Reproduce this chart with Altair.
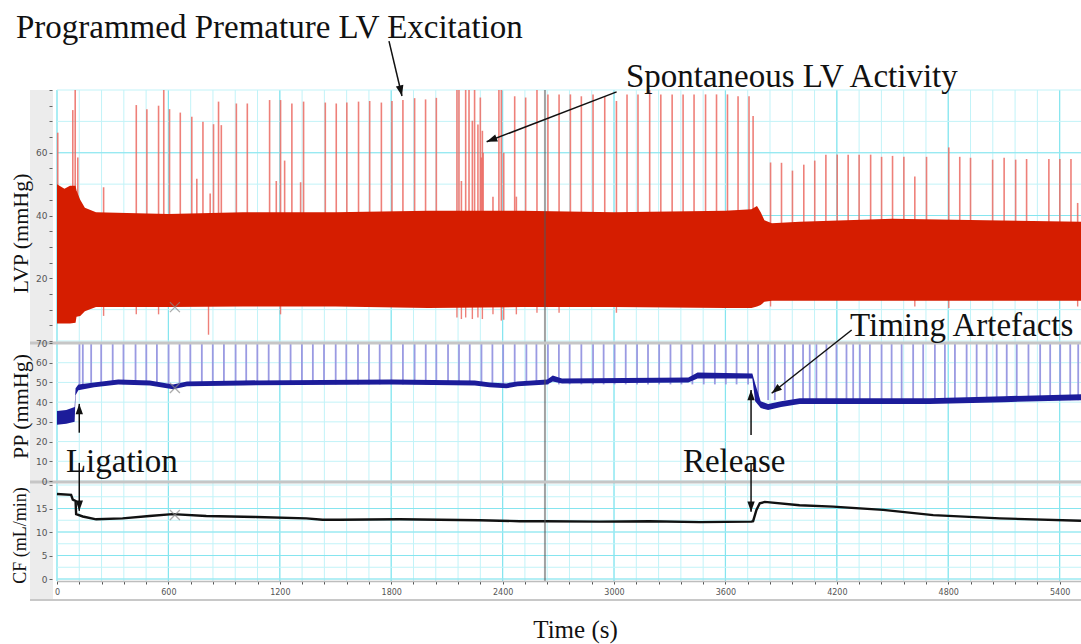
import altair as alt
import pandas as pd

# ------------------------------------------------------------------ data
# LVP envelope of the pressure oscillations (time s, min, max mmHg)
lvp_t = [0, 40, 70, 100, 105, 125, 150, 210, 600, 1000, 1500, 2000,
         2500, 3000, 3600, 3740, 3770, 3790, 3810, 3850, 4000, 4500, 5000, 5515]
lvp_lo = [5.6, 5.6, 5.6, 5.8, 7.7, 8.0, 9.5, 10.8, 10.8, 11.0, 11.0, 10.5,
          10.8, 10.8, 10.5, 10.5, 11.0, 11.5, 12.5, 12.8, 12.8, 12.8, 12.8, 12.8]
lvp_hi = [50, 48.5, 49.5, 49.5, 48, 45, 42.5, 41, 40.5, 41, 41, 41.5,
          41.5, 41, 41.5, 42, 43, 41, 38.5, 37.5, 38, 39, 38.5, 38]

# LVP upward spikes (time s, peak mmHg)
lvp_spike_t = [4, 85, 98, 112, 251, 427, 484, 547, 575, 606,
               664, 726, 753, 786, 825, 843, 870, 885, 966, 1025,
               1145, 1181, 1204, 1226, 1265, 1312, 1328, 1445, 1504, 1561,
               1624, 1684, 1747, 1804, 1863, 1926, 1985, 2043,
               2154, 2165, 2178, 2201, 2219, 2237, 2249, 2267, 2280, 2285,
               2291, 2295, 2348, 2380, 2393, 2406, 2465, 2474, 2524, 2585,
               2644, 2704, 2765, 2824, 2887, 2950, 3013, 3070, 3129, 3192,
               3252, 3313, 3372, 3431, 3493, 3552, 3611, 3668, 3727, 3749,
               3843, 3902, 3961, 4022, 4081, 4141, 4202, 4261, 4320, 4382,
               4441, 4500, 4561, 4620, 4683, 4803, 4862, 4920, 5039, 5101,
               5163, 5222, 5342, 5401, 5461, 5497]
lvp_spike_v = [66.4, 73.6, 80, 58.5, 49, 75.2, 73.9, 75, 80, 73.9,
               72.8, 71.5, 51.7, 69.9, 47, 69.1, 76.3, 68.8, 75.7, 75.7,
               76.8, 51, 76.8, 57.5, 75.7, 50.6, 76.3, 76, 75.7, 76,
               76.3, 76.5, 76, 76.5, 76.8, 77.4, 77, 77.5,
               80, 80, 51, 80, 80, 70.2, 80, 69, 77.6, 58.5,
               67, 60, 46, 80, 80, 60, 78, 46, 77.6, 80,
               78.6, 78.6, 78.6, 78, 78.6, 78, 76.5, 78.6, 78.6, 80,
               78.6, 78.6, 78.6, 78.6, 78.6, 78.6, 78.6, 78, 78, 71.7,
               56.9, 56.8, 54.3, 56.2, 57.5, 59.4, 59.4, 59.4, 59.4, 59.4,
               58.7, 59, 58.7, 52.4, 58.7, 61.7, 58.7, 58.4, 57.8, 58.4,
               57.8, 58, 58, 58, 58, 44]

# LVP downward spikes (time s, minimum mmHg)
lvp_dip_t = [251, 427, 547, 816, 1204, 2154, 2178, 2201, 2237, 2267, 2291,
             2348, 2393, 2406, 2474, 2585, 2704, 3013, 3843, 4620, 4803, 5497]
lvp_dip_v = [8, 8.5, 8.5, 2, 8.5, 7.5, 7, 7.5, 7, 7.5, 7,
             8.5, 6.5, 6.8, 8.5, 9, 9, 9, 11, 11, 10.5, 11]

# PP envelope (time s, min, max mmHg)
pp_t = [0, 50, 95, 100, 115, 200, 330, 500, 625, 700, 1000, 1800, 2250, 2330,
        2420, 2480, 2640, 2670, 2720, 3400, 3450, 3745, 3760, 3790, 3830, 3900,
        4000, 4700, 5100, 5515]
pp_lo = [28.5, 29, 30, 43.5, 46, 47.5, 49, 48.5, 46.5, 48, 48.5, 49, 48.5, 47.5,
         47, 48, 49, 50.5, 49.5, 50, 52, 52, 40.5, 37, 36, 37.5,
         39, 39, 40, 41]
pp_hi = [35.5, 36, 37.5, 47, 49, 50, 51.5, 51, 49, 50.5, 51, 51.5, 51, 50,
         49.5, 50.5, 51.5, 53.5, 52, 52.5, 55, 54.5, 49.5, 40.5, 39, 40.5,
         42, 42, 43, 44]

# PP timing artefacts (time s) before and after release
pp_spike_pre_t = [121, 139, 184, 238, 300, 358, 423, 481, 538, 601,
                  660, 718, 780, 839, 899, 962, 1019, 1079, 1140, 1199,
                  1258, 1319, 1378, 1438, 1501, 1558, 1621, 1680, 1738, 1801,
                  1863, 1926, 1986, 2043, 2106, 2165, 2223, 2286, 2345, 2403,
                  2465, 2528, 2582, 2644, 2703, 2761, 2824, 2887, 2944, 3003,
                  3063, 3124, 3183, 3243, 3304, 3363, 3422, 3483, 3543, 3602,
                  3660, 3722]
pp_spike_post_t = [3776, 3830, 3866, 3920, 3964, 4018, 4054, 4090, 4144, 4198,
                   4252, 4288, 4324, 4378, 4441, 4495, 4549, 4611, 4665, 4728,
                   4782, 4836, 4899, 4953, 5007, 5061, 5115, 5169, 5232, 5295,
                   5349, 5403, 5457, 5500]

# Coronary flow (time s, mL/min)
cf_t = [0, 76, 85, 100, 103, 139, 211, 353, 498, 622,
        804, 1073, 1343, 1430, 1522, 1845, 2276, 2492, 2627, 2923,
        3192, 3462, 3740, 3749, 3767, 3785, 3812, 3999, 4180, 4449,
        4719, 5078, 5515]
cf_v = [18.1, 17.9, 16.9, 16.6, 13.8, 13.3, 12.7, 12.9, 13.4, 13.8,
        13.4, 13.2, 12.9, 12.6, 12.6, 12.7, 12.5, 12.3, 12.3, 12.2,
        12.3, 12.1, 12.2, 12.3, 14.7, 16.1, 16.4, 15.7, 15.4, 14.7,
        13.6, 12.9, 12.4]

# ticks
x_ticks = [0, 600, 1200, 1800, 2400, 3000, 3600, 4200, 4800, 5400]
lvp_ticks = [20, 40, 60]
pp_ticks = [0, 10, 20, 30, 40, 50, 60, 70]
cf_ticks = [0, 5, 10, 15]

# event marker (x) and cursor
marker_t = [635]
marker_lvp = [10.8]
marker_pp = [47.2]
marker_cf = [13.6]
cursor_t = [2628]

# annotations
lvp_notes = ["Programmed Premature LV Excitation", "Spontaneous LV Activity"]
lvp_note_t = [-221, 3064]
lvp_note_v = [96.7, 81.0]
pp_notes = ["Timing Artefacts", "Ligation", "Release"]
pp_note_t = [4271, 48, 3371]
pp_note_v = [73.6, 4.8, 4.8]

lvp_arrow_t0 = [1788, 3014]
lvp_arrow_v0 = [95.6, 79.4]
lvp_arrow_t1 = [1858, 2314]
lvp_arrow_v1 = [78.1, 63.5]
pp_arrow_t0 = [4280, 120, 3738]
pp_arrow_v0 = [76.6, 24.5, 23.3]
pp_arrow_t1 = [3849, 120, 3738]
pp_arrow_v1 = [44.5, 39.1, 46.2]
cf_arrow_t0 = [120, 3738]
cf_arrow_v0 = [24.7, 24.7]
cf_arrow_t1 = [120, 3738]
cf_arrow_v1 = [14.5, 14.3]

# ------------------------------------------------------------------ style
SERIF = "Liberation Serif"
SANS = "DejaVu Sans"
W, H = 1024, 491
RED = "#d51d00"
RED_SPIKE = "#eb6a62"
BLUE = "#1c1c9a"
BLUE_SPIKE = "#9a9ae2"
G_MINOR = "#c2f3f8"
G_MAJOR = "#86e5ef"
HEAD = "M0,0L-0.36,1L0.36,1Z"
XSHAPE = "M-1,-1L1,1M-1,1L1,-1"

XS = alt.Scale(domain=[0, 5515], nice=False, zero=False)
S_LVP = alt.Scale(domain=[0, 80], range=[251, 0], nice=False, zero=False)
S_PP = alt.Scale(domain=[0, 70], range=[391, 253], nice=False, zero=False)
S_CF = alt.Scale(domain=[0, 20], range=[489, 395], nice=False, zero=False)


def y_axis(title, values, expr, ty, fs):
    return alt.Axis(orient="left", values=values, labelExpr=expr, title=title,
                    titleX=-32, titleY=ty, titleAngle=270, titleAlign="center",
                    titleBaseline="middle", titleFont=SERIF, titleFontSize=fs,
                    titleFontWeight="normal", titleColor="#111",
                    labelFont=SANS, labelFontSize=9, labelColor="#555",
                    labelPadding=2, tickSize=3, tickColor="#666", domain=False,
                    grid=False, offset=5, zindex=1, labelOverlap=False,
                    labelFlush=False)


X_AXIS = alt.Axis(values=list(range(0, 5516, 120)), format="d",
                  labelExpr="datum.value % 600 === 0 ? datum.label : ''",
                  tickSize=3, tickColor="#555", domainColor="#bdbdbd",
                  domainWidth=1.5, labelFont=SANS, labelFontSize=8,
                  labelColor="#555", labelPadding=4, grid=False,
                  labelOverlap=False, labelFlush=False,
                  title="Time (s)", titleFont=SERIF, titleFontSize=25,
                  titleFontWeight="normal", titleColor="#111", titleX=518,
                  titleY=56, titleBaseline="alphabetic", zindex=1)

AX_LVP = y_axis("LVP (mmHg)", list(range(0, 81, 5)),
                "datum.value % 20 === 0 && datum.value > 0 && datum.value < 80 ? datum.label : ''",
                143, 22)
AX_PP = y_axis("PP (mmHg)", pp_ticks, "datum.label", 316, 22)
AX_CF = y_axis("CF (mL/min)", [0, 5, 10, 15, 20],
               "datum.value < 20 ? datum.label : ''", 445, 18)


def xq(f):
    return alt.X(f, type="quantitative", scale=XS, axis=X_AXIS)


def yq(f, s, ax):
    return alt.Y(f, type="quantitative", scale=s, axis=ax)


one = alt.Data(values=[{"a": 1}])

# ------------------------------------------------------------------ background
strip = alt.Chart(one).mark_rect(color="#ececec").encode(
    x=alt.value(-27), x2=alt.value(-4), y=alt.value(0), y2=alt.value(510))

vgrid_minor = alt.Chart(pd.DataFrame({"t": list(range(0, 5516, 120))})).mark_rule(
    color=G_MINOR, strokeWidth=1).encode(x=xq("t"), y=alt.value(0), y2=alt.value(H))
vgrid_major = alt.Chart(pd.DataFrame({"t": x_ticks})).mark_rule(
    color=G_MAJOR, strokeWidth=1.2).encode(x=xq("t"), y=alt.value(0), y2=alt.value(H))


def hgrid(vals, scale, color, ax):
    return alt.Chart(pd.DataFrame({"v": vals})).mark_rule(color=color, strokeWidth=1).encode(
        y=yq("v:Q", scale, ax), x=alt.value(0), x2=alt.value(W))


def xmark(vals, scale, ax):
    return alt.Chart(pd.DataFrame({"t": marker_t, "v": vals})).mark_point(
        shape=XSHAPE, size=100, color="#8a8a8a", strokeWidth=1.3, filled=False).encode(
        x=xq("t"), y=yq("v", scale, ax))


# ------------------------------------------------------------------ LVP panel
lvp_df = pd.DataFrame({"t": lvp_t, "lo": lvp_lo, "hi": lvp_hi})
lvp_panel = alt.layer(
    hgrid(list(range(0, 81, 10)), S_LVP, G_MINOR, AX_LVP),
    hgrid(lvp_ticks, S_LVP, G_MAJOR, AX_LVP),
    alt.Chart(pd.DataFrame({"t": lvp_spike_t, "v": lvp_spike_v})).mark_rule(
        color=RED_SPIKE, strokeWidth=1.6, opacity=0.85).encode(
        x=xq("t"), y=yq("v", S_LVP, AX_LVP), y2=alt.datum(30)),
    alt.Chart(pd.DataFrame({"t": lvp_dip_t, "v": lvp_dip_v})).mark_rule(
        color=RED_SPIKE, strokeWidth=1.4, opacity=0.85).encode(
        x=xq("t"), y=yq("v", S_LVP, AX_LVP), y2=alt.datum(20)),
    alt.Chart(lvp_df).mark_area(color=RED, opacity=1).encode(
        x=xq("t"), y=yq("hi", S_LVP, AX_LVP), y2=alt.Y2("lo")),
    xmark(marker_lvp, S_LVP, AX_LVP),
)

# ------------------------------------------------------------------ PP panel
pp_df = pd.DataFrame({"t": pp_t, "lo": pp_lo, "hi": pp_hi})
pp_panel = alt.layer(
    hgrid(pp_ticks, S_PP, G_MINOR, AX_PP),
    alt.Chart(pd.DataFrame({"t": pp_spike_pre_t})).mark_rule(
        color=BLUE_SPIKE, strokeWidth=1.8).encode(
        x=xq("t"), y=alt.Y(datum=70, scale=S_PP, axis=AX_PP), y2=alt.datum(49)),
    alt.Chart(pd.DataFrame({"t": pp_spike_post_t})).mark_rule(
        color=BLUE_SPIKE, strokeWidth=1.8).encode(
        x=xq("t"), y=alt.Y(datum=70, scale=S_PP, axis=AX_PP), y2=alt.datum(41)),
    alt.Chart(pp_df).mark_area(color=BLUE, opacity=1).encode(
        x=xq("t"), y=yq("hi", S_PP, AX_PP), y2=alt.Y2("lo")),
    xmark(marker_pp, S_PP, AX_PP),
)

# ------------------------------------------------------------------ CF panel
cf_df = pd.DataFrame({"t": cf_t, "v": cf_v})
cf_panel = alt.layer(
    hgrid([0, 2.5, 5, 7.5, 10, 12.5, 15, 17.5, 20], S_CF, G_MINOR, AX_CF),
    hgrid(cf_ticks, S_CF, G_MAJOR, AX_CF),
    alt.Chart(cf_df).mark_line(color="#111", strokeWidth=2.4).encode(
        x=xq("t"), y=yq("v", S_CF, AX_CF)),
    xmark(marker_cf, S_CF, AX_CF),
)

# ------------------------------------------------------------------ overlays
cursor = alt.Chart(pd.DataFrame({"t": cursor_t})).mark_rule(
    color="#555", strokeWidth=2, opacity=0.55).encode(
    x=xq("t"), y=alt.value(0), y2=alt.value(H))
sep1 = alt.Chart(one).mark_rect(color="#c6c6c6").encode(
    x=alt.value(-27), x2=alt.value(W), y=alt.value(251.5), y2=alt.value(254.5))
sep2 = alt.Chart(one).mark_rect(color="#c6c6c6").encode(
    x=alt.value(-27), x2=alt.value(W), y=alt.value(390.5), y2=alt.value(393.5))
bottom = alt.Chart(one).mark_rule(color="#c8c8c8", strokeWidth=2).encode(
    x=alt.value(-27), x2=alt.value(W), y=alt.value(510))


def notes(texts, ts, vs, scale):
    return alt.Chart(pd.DataFrame({"txt": texts, "t": ts, "v": vs})).mark_text(
        font=SERIF, fontSize=33, align="left", baseline="alphabetic", color="#111").encode(
        x=xq("t"), y=yq("v", scale, None), text="txt:N")


def arrows(t0, v0, t1, v1, angle, scale, size):
    df = pd.DataFrame({"t0": t0, "v0": v0, "t1": t1, "v1": v1})
    shaft = alt.Chart(df).mark_rule(color="#111", strokeWidth=1.5).encode(
        x=xq("t0"), y=yq("v0", scale, None), x2="t1", y2="v1")
    heads = []
    for i in range(len(t0)):
        heads.append(alt.Chart(df.iloc[[i]]).mark_point(
            shape=HEAD, filled=True, color="#111", size=size, opacity=1,
            angle=angle[i]).encode(x=xq("t1"), y=yq("v1", scale, None)))
    return [shaft] + heads


layers = [strip, vgrid_minor, vgrid_major, lvp_panel, pp_panel, cf_panel,
          cursor, sep1, sep2, bottom,
          notes(lvp_notes, lvp_note_t, lvp_note_v, S_LVP),
          notes(pp_notes, pp_note_t, pp_note_v, S_PP)]
layers += arrows(lvp_arrow_t0, lvp_arrow_v0, lvp_arrow_t1, lvp_arrow_v1,
                 [167, 249], S_LVP, 450)
layers += arrows(pp_arrow_t0, pp_arrow_v0, pp_arrow_t1, pp_arrow_v1,
                 [232, 0, 0], S_PP, 420)
layers += arrows(cf_arrow_t0, cf_arrow_v0, cf_arrow_t1, cf_arrow_v1,
                 [180, 180], S_CF, 420)

chart = alt.layer(*layers).resolve_scale(y="independent").properties(
    width=W, height=H,
    autosize=alt.AutoSizeParams(type="none"),
    padding={"left": 57, "top": 90, "right": 0, "bottom": 63},
    background="white",
).configure_view(stroke="transparent")

chart.save("out.html", embed_options={"renderer": "svg", "actions": False})
